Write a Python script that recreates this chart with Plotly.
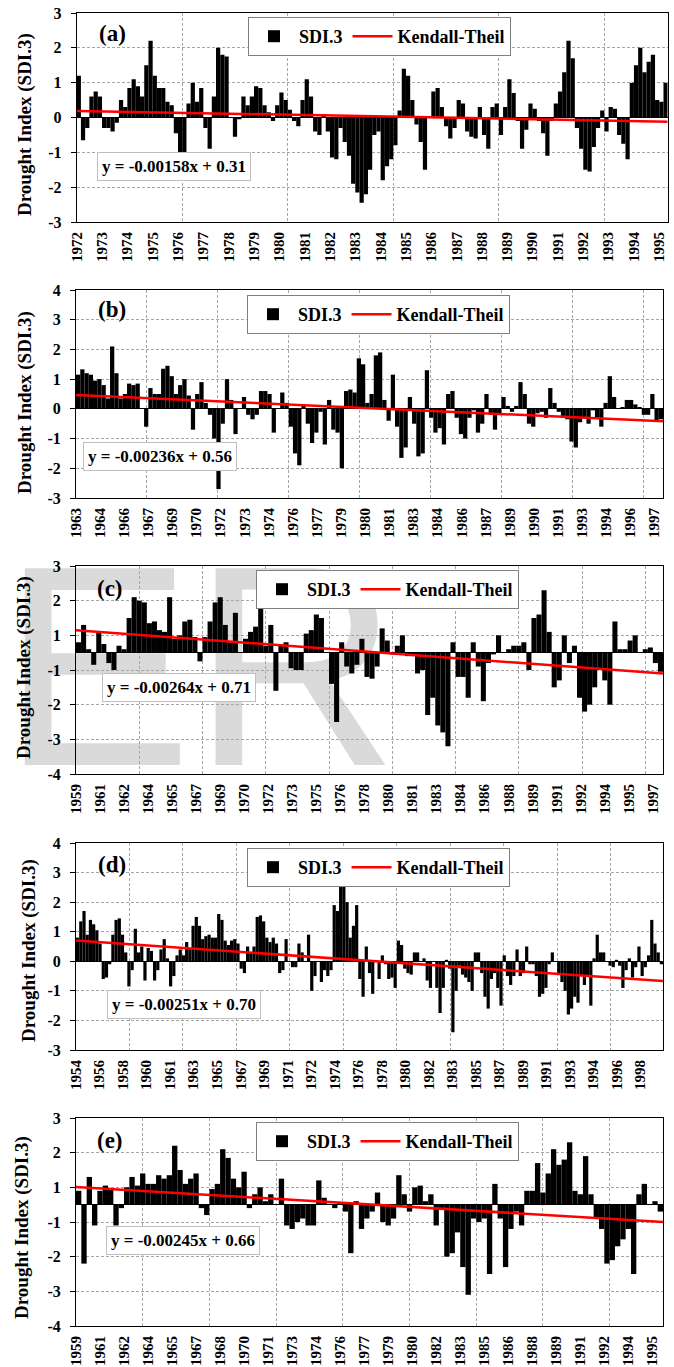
import plotly.graph_objects as go

W, H = 674, 1367
SERIF = "Liberation Serif"

# ---------------- data ----------------
# SDI.3 values, averaged over consecutive groups of months (group size per panel below)
sdi_a = [1.2, -0.65, -0.3, 0.6, 0.75, 0.6, -0.3, -0.3, -0.4, -0.15,
         0.5, 0.3, 0.85, 1.1, 0.9, 0.6, 1.5, 2.2, 1.2, 0.85,
         0.85, 0.45, 0.35, -0.45, -1.0, -1.0, 0.4, 1.0, 0.45, 0.85,
         -0.3, -0.9, 0.6, 2.0, 1.8, 1.75, 0.0, -0.55, -0.05, 0.6,
         0.35, 0.6, 0.9, 0.85, 0.35, 0.15, -0.1, 0.35, 0.72, 0.5,
         0.22, -0.1, -0.25, 0.5, 1.1, 0.6, -0.4, -0.5, 0.1, -0.4,
         -1.15, -1.2, -0.3, -0.7, -1.1, -1.9, -2.15, -2.45, -2.2, -1.5,
         -0.5, -0.4, -1.8, -1.4, -1.2, -0.8, 0.2, 1.4, 1.2, 0.5,
         -0.2, -0.7, -1.5, 0.0, 0.75, 0.85, 0.3, -0.25, -0.6, -0.3,
         0.5, 0.4, -0.4, -0.55, -0.6, 0.3, -0.5, -0.9, 0.3, 0.4,
         -0.5, 0.3, 1.1, 0.7, -0.1, -0.9, -0.35, 0.4, 0.25, -0.1,
         -0.45, -1.1, -0.1, 0.4, 0.75, 1.3, 2.2, 1.7, -0.3, -0.9,
         -1.5, -1.55, -0.85, -0.3, 0.2, -0.4, 0.3, 0.25, -0.5, -0.75,
         -1.2, 1.0, 1.5, 2.0, 1.3, 1.6, 1.8, 0.5, 0.45, 1.0]

sdi_b = [1.15, 1.33, 1.2, 1.15, 0.95, 1.0, 0.8, 0.35, 2.1, 1.2,
         0.35, 0.5, 0.85, 0.8, 0.85, 0.0, -0.6, 0.7, 0.5, 0.5,
         1.35, 1.45, 1.1, 0.5, 0.8, 1.0, 0.45, -0.7, 0.5, 0.9,
         0.2, -0.2, -1.0, -2.7, -0.5, 1.0, 0.3, -0.85, 0.0, 0.4,
         -0.2, -0.35, -0.2, 0.6, 0.6, 0.5, -0.8, 0.0, 0.55, 0.2,
         -0.6, -1.5, -1.9, 0.1, -0.5, -1.15, -0.8, -0.1, -1.2, 0.3,
         -0.7, -0.8, -2.0, 0.6, 0.65, 0.55, 1.7, 1.5, 0.2, 0.5,
         1.8, 1.9, 0.3, -0.4, 1.15, -0.6, -1.65, -1.3, 0.4, -0.5,
         -1.6, -1.5, 1.3, -0.3, -0.8, -0.65, -1.2, 0.5, 0.6, -0.3,
         -0.85, -1.0, -0.3, -0.05, -0.8, -0.5, 0.5, -0.2, -0.7, -0.2,
         0.4, 0.1, -0.1, 0.1, 0.9, 0.5, -0.5, -0.6, -0.15, -0.1,
         -0.3, 0.7, 0.2, -0.1, -0.3, -0.35, -1.1, -1.3, -0.45, -0.3,
         -0.5, -0.05, -0.3, -0.6, 0.2, 1.1, 0.4, 0.0, 0.05, 0.3,
         0.3, 0.15, 0.05, -0.2, -0.2, 0.5, -0.4, -0.35]

sdi_c = [0.3, 0.8, 0.1, -0.35, 0.6, 0.25, -0.3, -0.5, 0.2, 0.1,
         1.0, 1.6, 1.5, 1.45, 0.85, 0.9, 0.65, 0.6, 1.6, 0.4,
         0.5, 0.9, 0.95, 0.45, -0.25, 0.45, 0.9, 1.45, 1.6, 0.8,
         0.3, 1.15, 0.0, 0.4, 0.6, 0.75, 1.4, 0.2, 0.8, -1.1,
         0.2, 0.3, -0.45, -0.5, -0.5, 0.55, 0.65, 1.1, 1.0, 0.0,
         -0.9, -2.0, 0.3, -0.4, -0.6, -0.35, 0.4, -0.7, -0.75, -0.4,
         0.7, 0.35, -0.05, 0.2, 0.5, -0.1, -0.1, -0.6, -0.5, -1.8,
         -1.3, -2.1, -2.3, -2.7, 0.3, -0.7, -0.7, -1.3, 0.3, -0.4,
         -1.4, -0.3, -0.05, 0.5, 0.0, 0.1, 0.2, 0.2, 0.3, -0.5,
         1.0, 1.1, 1.8, 0.6, -1.0, -0.8, 0.5, -0.3, 0.2, -1.3,
         -1.7, -1.5, -1.0, -0.5, -0.8, -1.5, 0.9, 0.1, 0.1, 0.35,
         0.5, 0.0, 0.1, 0.15, -0.3, -0.55]

sdi_d = [0.8, 1.35, 1.7, 0.9, 1.4, 1.25, 1.05, 0.6, -0.6, -0.55,
         -0.1, 0.9, 1.4, 1.45, 0.9, 0.3, -0.85, -0.3, 1.1, 0.3,
         0.5, -0.65, 0.45, 0.35, -0.65, -0.3, 0.4, 0.75, 0.1, -0.85,
         -0.5, 0.2, 0.4, 0.2, 0.65, 0.45, 1.2, 1.5, 1.2, 0.75,
         0.85, 0.9, 0.8, 0.8, 1.6, 1.4, 0.7, 0.55, 0.7, 0.75,
         0.6, -0.25, -0.4, 0.5, 0.3, 0.5, 1.5, 1.55, 1.35, 0.8,
         0.65, 0.8, 0.6, -0.4, -0.3, 0.75, 0.0, -0.2, -0.2, 0.6,
         0.3, 0.0, 0.9, -1.0, -0.5, 0.0, -0.7, -0.3, -0.5, -0.3,
         1.9, 1.7, 2.6, 2.8, 2.0, 0.8, 1.2, 1.9, -0.6, -1.2,
         0.5, -0.4, -1.1, 0.0, -0.6, 0.2, -0.1, -0.6, -0.55, -0.9,
         0.7, 0.55, -0.25, -0.4, -0.45, 0.3, 0.3, 0.0, 0.1, -0.65,
         -0.9, 0.0, -0.9, -1.75, -0.9, 0.05, -0.25, -2.4, -1.0, -0.15,
         -0.45, -0.55, -0.7, -1.0, 0.3, 0.3, -0.4, -1.2, -1.6, -0.6,
         -0.4, -0.9, -1.5, 0.2, -0.5, -0.8, -0.5, 0.4, -0.5, -0.4,
         0.5, -0.1, -0.1, -0.5, -1.2, -1.1, -0.9, -0.1, 0.3, 0.0,
         -0.45, -0.7, -1.0, -1.8, -1.6, -1.2, -1.4, -0.5, -0.8, -0.5,
         -1.5, 0.1, 0.9, 0.3, 0.3, 0.0, -0.15, -0.2, 0.05, -0.15,
         -0.9, -0.3, 0.1, -0.55, -0.2, 0.5, -0.5, -0.2, 0.2, 1.4,
         0.6, 0.3, -0.1]

sdi_e = [0.4, -1.7, 0.8, -0.6, 0.4, 0.55, 0.45, -0.6, -0.1, 0.5,
         0.8, 0.55, 0.9, 0.6, 0.6, 0.85, 0.75, 0.85, 1.7, 1.0,
         0.6, 0.75, 0.9, -0.1, -0.3, 0.45, 0.6, 1.6, 1.35, 0.75,
         0.5, 0.95, -0.1, 0.3, 0.5, 0.1, 0.3, 0.0, 0.75, -0.6,
         -0.7, -0.5, -0.4, -0.6, -0.6, 0.7, 0.2, 0.0, -0.1, 0.05,
         -0.2, -1.4, 0.1, -0.7, -0.4, -0.2, 0.35, -0.5, -0.6, -0.4,
         0.85, 0.3, -0.2, 0.5, 0.55, 0.1, 0.3, -0.6, -0.15, -1.5,
         -1.4, -0.8, -1.8, -2.6, -0.4, -0.5, -0.4, -2.0, 0.6, -0.4,
         -1.8, -0.7, -0.2, -0.6, 0.4, 0.4, 1.2, 0.35, 0.9, 1.6,
         1.15, 1.3, 1.8, 0.4, 0.3, 1.4, 0.3, -0.4, -0.7, -1.7,
         -1.6, -1.2, -1.0, -0.7, -2.0, 0.3, 0.6, 0.0, 0.1, -0.2]

months_per_bar = [2, 3, 4, 3, 4]

# Kendall-Theil line: value at first and last month
trend_a = [0.19, -0.12]
trend_b = [0.47, -0.42]
trend_c = [0.65, -0.60]
trend_d = [0.70, -0.67]
trend_e = [0.51, -0.50]

eq_a = "y = -0.00158x + 0.31"
eq_b = "y = -0.00236x + 0.56"
eq_c = "y = -0.00264x + 0.71"
eq_d = "y = -0.00251x + 0.70"
eq_e = "y = -0.00245x + 0.66"

labels_a = ["1972", "1973", "1974", "1975", "1976", "1977", "1978", "1979", "1980", "1981", "1982", "1983",
            "1984", "1985", "1986", "1987", "1988", "1989", "1990", "1991", "1992", "1993", "1994", "1995"]
labels_b = ["1963", "1964", "1966", "1967", "1969", "1970", "1972", "1973", "1974", "1976", "1977", "1979",
            "1980", "1981", "1983", "1984", "1986", "1987", "1989", "1990", "1991", "1993", "1994", "1996", "1997"]
labels_c = ["1959", "1961", "1962", "1964", "1965", "1967", "1969", "1970", "1972", "1973", "1975", "1976",
            "1978", "1980", "1981", "1983", "1984", "1986", "1988", "1989", "1991", "1992", "1994", "1995", "1997"]
labels_d = ["1954", "1956", "1958", "1960", "1961", "1963", "1965", "1967", "1969", "1971", "1972", "1974",
            "1976", "1978", "1980", "1982", "1983", "1985", "1987", "1989", "1991", "1993", "1994", "1996", "1998"]
labels_e = ["1959", "1961", "1962", "1964", "1965", "1967", "1968", "1970", "1971", "1973", "1974", "1976",
            "1977", "1979", "1980", "1982", "1983", "1985", "1986", "1988", "1989", "1991", "1992", "1994", "1995"]
label_every = [12, 17, 19, 22, 18]   # months between year labels
grid_every = 50                      # months between vertical gridlines

ytick_std_a = [-3, -2, -1, 0, 1, 2, 3]
ytick_std_b = [-3, -2, -1, 0, 1, 2, 3, 4]
ytick_odd_vals = [-3.5, -2.5, -1.5, -0.5, 0.5, 1.5, 2.5]
ytick_odd_text = ["-4", "-3", "-2", "-1", "1", "2", "3"]

letters = ["(a)", "(b)", "(c)", "(d)", "(e)"]

# ---------------- layout (pixels) ----------------
dom_px = [(76.7, 667.7, 13, 222), (76, 663, 290, 498), (76, 663, 566, 774),
          (76, 663, 843, 1050), (76, 663, 1118, 1326)]
legend_px = [(248, 17), (247, 295), (256, 570), (247, 848), (256, 1122)]
eq_px = [(97, 166), (83, 456), (102, 687), (107, 1004), (106, 1240)]
letter_px = [(112, 34), (112, 309), (110, 588), (112, 864), (110, 1140)]
ytitle_px = [(25, 125), (25, 403), (24, 668), (29, 951), (22, 1228)]

panels = [
    dict(vals=sdi_a, trend=trend_a, eq=eq_a, labels=labels_a, yr=[-3, 3],
         tv=ytick_std_a, tt=[str(v) for v in ytick_std_a]),
    dict(vals=sdi_b, trend=trend_b, eq=eq_b, labels=labels_b, yr=[-3, 4],
         tv=ytick_std_b, tt=[str(v) for v in ytick_std_b]),
    dict(vals=sdi_c, trend=trend_c, eq=eq_c, labels=labels_c, yr=[-3.5, 2.5],
         tv=ytick_odd_vals, tt=ytick_odd_text),
    dict(vals=sdi_d, trend=trend_d, eq=eq_d, labels=labels_d, yr=[-3, 4],
         tv=ytick_std_b, tt=[str(v) for v in ytick_std_b]),
    dict(vals=sdi_e, trend=trend_e, eq=eq_e, labels=labels_e, yr=[-3.5, 2.5],
         tv=ytick_odd_vals, tt=ytick_odd_text),
]

GRID = "#a6a6a6"
fig = go.Figure()

# watermark (behind everything, on its own full-page axes)
fig.add_trace(go.Scatter(x=[200.0], y=[H - 693.5], mode="text", text=["ER"],
                         textposition="middle center", cliponaxis=False,
                         textfont=dict(family="Liberation Sans", size=286, color="#dadada"),
                         xaxis="x", yaxis="y", showlegend=False, hoverinfo="skip"))

layout = dict(
    width=W, height=H, margin=dict(l=0, r=0, t=0, b=0, pad=0),
    paper_bgcolor="white", plot_bgcolor="rgba(0,0,0,0)",
    barmode="overlay", showlegend=True,
    xaxis=dict(domain=[0, 1], range=[0, W], visible=False, fixedrange=True),
    yaxis=dict(domain=[0, 1], range=[0, H], visible=False, fixedrange=True),
    annotations=[],
)

for i, p in enumerate(panels):
    n = i + 2
    xa, ya = f"x{n}", f"y{n}"
    leg = "legend" if i == 0 else f"legend{i + 1}"
    b = months_per_bar[i]
    N = len(p["vals"]) * b
    centers = [k * b + b / 2 for k in range(len(p["vals"]))]

    fig.add_trace(go.Bar(x=centers, y=p["vals"], width=b, name="SDI.3",
                         marker=dict(color="black", line=dict(width=0)),
                         xaxis=xa, yaxis=ya, legend=leg, hoverinfo="skip"))
    fig.add_trace(go.Scatter(x=[0, N], y=p["trend"], mode="lines", name="Kendall-Theil",
                             line=dict(color="#ff0000", width=2.5),
                             xaxis=xa, yaxis=ya, legend=leg, hoverinfo="skip"))

    l, r, t, bt = dom_px[i]
    L = label_every[i]
    layout[f"xaxis{n}"] = dict(
        domain=[l / W, r / W], anchor=ya, range=[0, N], automargin=False,
        tickmode="array", tickvals=[j * L for j in range(len(p["labels"]))],
        ticktext=p["labels"], tickangle=-90,
        tickfont=dict(family=SERIF, size=15, color="black", weight="bold"),
        ticks="outside", ticklen=3, tickcolor="rgba(0,0,0,0)",
        showgrid=False, zeroline=False,
        minor=dict(tickmode="array", tickvals=list(range(grid_every, N, grid_every)),
                   showgrid=True, gridcolor=GRID, griddash="3px,2px", gridwidth=1, ticks=""),
        showline=True, linecolor="black", linewidth=1, mirror=True, fixedrange=True,
    )
    layout[f"yaxis{n}"] = dict(
        domain=[1 - bt / H, 1 - t / H], anchor=xa, range=p["yr"], automargin=False,
        tickmode="array", tickvals=p["tv"], ticktext=p["tt"],
        tickfont=dict(family=SERIF, size=16, color="black", weight="bold"),
        ticks="outside", ticklen=5, tickcolor="black", ticklabelstandoff=6,
        showgrid=True, gridcolor=GRID, griddash="3px,2px", gridwidth=1,
        zeroline=True, zerolinecolor="black", zerolinewidth=1,
        showline=True, linecolor="black", linewidth=1, mirror=True, fixedrange=True,
    )

    lx, ly = legend_px[i]
    layout[leg] = dict(
        x=lx / W, y=1 - ly / H, xanchor="left", yanchor="top", orientation="h",
        bgcolor="white", bordercolor="#7f7f7f", borderwidth=1,
        font=dict(family=SERIF, size=18, color="black", weight="bold"),
        itemwidth=40, tracegroupgap=0,
    )

    ex, ey = eq_px[i]
    layout["annotations"].append(dict(
        xref="paper", yref="paper", x=ex / W, y=1 - ey / H, xanchor="left", yanchor="middle",
        text=p["eq"], showarrow=False, bgcolor="white", bordercolor="#bfbfbf",
        borderwidth=1, borderpad=4,
        font=dict(family=SERIF, size=17, color="black", weight="bold")))

    tx, ty = letter_px[i]
    layout["annotations"].append(dict(
        xref="paper", yref="paper", x=tx / W, y=1 - ty / H, xanchor="center", yanchor="middle",
        text=letters[i], showarrow=False,
        font=dict(family=SERIF, size=23, color="black", weight="bold")))

    yx, yy = ytitle_px[i]
    layout["annotations"].append(dict(
        xref="paper", yref="paper", x=yx / W, y=1 - yy / H, xanchor="center", yanchor="middle",
        text="Drought Index (SDI.3)", textangle=-90, showarrow=False,
        font=dict(family=SERIF, size=19, color="black", weight="bold")))

fig.update_layout(**layout)
# remove the browser's default 8px page margin so the figure sits at the page origin
fig.write_html("out.html", config={"displayModeBar": False},
               post_script="document.body.style.margin='0px';")
